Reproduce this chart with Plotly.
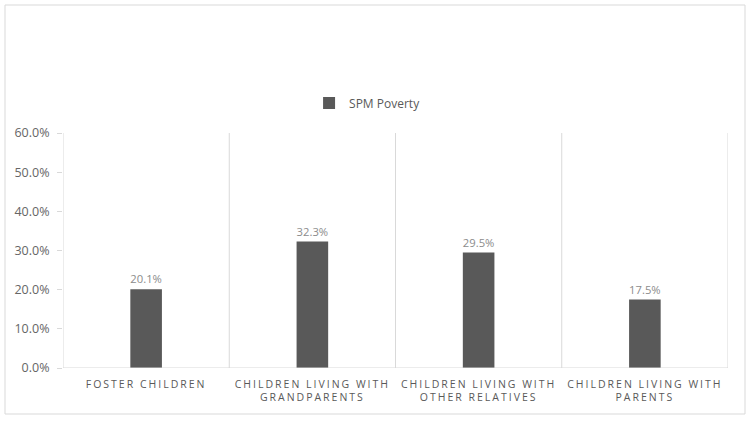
import plotly.graph_objects as go

categories = ["FOSTER CHILDREN", "CHILDREN LIVING WITH<br>GRANDPARENTS",
              "CHILDREN LIVING WITH<br>OTHER RELATIVES", "CHILDREN LIVING WITH<br>PARENTS"]
values = [20.1, 32.3, 29.5, 17.5]
series_name = "SPM Poverty"
tick_vals = [0, 10, 20, 30, 40, 50, 60]
tick_text = ["0.0%", "10.0%", "20.0%", "30.0%", "40.0%", "50.0%", "60.0%"]

fig = go.Figure()
fig.add_trace(go.Bar(
    x=list(range(len(categories))), y=values, name=series_name,
    marker=dict(color="#595959", line=dict(width=0)),
    width=0.19,
    text=[f"{v:.1f}%" for v in values], textposition="outside",
    textfont=dict(color="#8c8c8c", size=11.5, family="Open Sans"),
    cliponaxis=False, showlegend=True,
))

shapes = []
for b in [-0.5, 0.5, 1.5, 2.5, 3.5]:
    shapes.append(dict(type="line", xref="x", yref="paper", x0=b, x1=b, y0=0, y1=1,
                       line=dict(color="#d9d9d9", width=1)))
shapes.append(dict(type="line", xref="paper", yref="y", x0=0, x1=1, y0=0, y1=0,
                   line=dict(color="#d9d9d9", width=1)))
shapes.append(dict(type="rect", xref="paper", yref="paper",
                   x0=(5 - 63) / 665, x1=(745 - 63) / 665,
                   y0=(368 - 414) / 235, y1=(368 - 5) / 235,
                   line=dict(color="#d9d9d9", width=1), layer="below"))

fig.update_layout(
    width=751, height=422,
    margin=dict(l=63, r=23, t=133, b=54),
    paper_bgcolor="white", plot_bgcolor="white",
    font=dict(family="Open Sans", color="#595959"),
    shapes=shapes,
    showlegend=True,
    legend=dict(orientation="h", x=0.458, xanchor="center", y=(368 - 103) / 235, yanchor="middle",
                font=dict(size=12, color="#595959"), itemwidth=30,
                bgcolor="rgba(0,0,0,0)"),
    xaxis=dict(tickmode="array", tickvals=list(range(len(categories))), ticktext=categories,
               range=[-0.5, 3.5], showgrid=False, zeroline=False, showline=False,
               tickfont=dict(size=10.5, color="#595959"), ticks="",
               ticklabelstandoff=8),
    yaxis=dict(range=[0, 60], tickmode="array", tickvals=tick_vals, ticktext=tick_text,
               showgrid=False, zeroline=False, showline=False,
               ticks="outside", ticklen=5, tickcolor="#d9d9d9",
               ticklabelstandoff=5,
               tickfont=dict(size=12.5, color="#666666")),
    bargap=0.8,
)

post = """
var s=document.createElement('style');
s.innerHTML='html,body{margin:0;padding:0;} .xtick text{letter-spacing:2px;}';
document.head.appendChild(s);
"""
fig.write_html("out.html", post_script=post, config={"displayModeBar": False})
